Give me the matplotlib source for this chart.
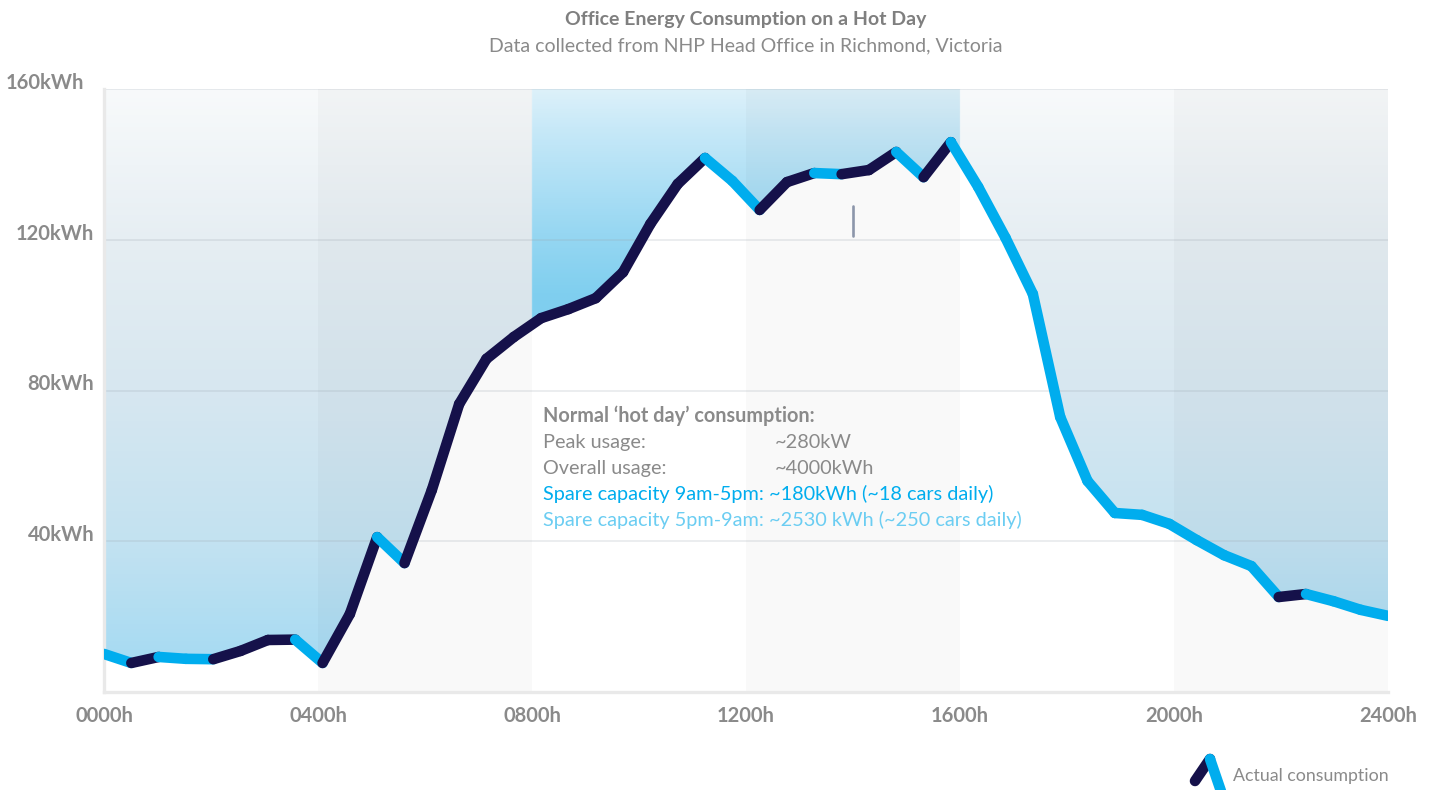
import numpy as np
import matplotlib
matplotlib.use('Agg')
import matplotlib.pyplot as plt
from matplotlib.patches import Polygon
from matplotlib.lines import Line2D
from matplotlib.colors import to_rgb
import matplotlib.transforms as mtransforms

# Energy readings through the day (kWh)
consumption = [10.1, 7.7, 9.3, 8.8, 8.7, 10.9, 13.8, 13.9, 7.7, 20.7,
               41.1, 34.2, 53.6, 76.4, 88.4, 94.2, 99.2, 101.6, 104.5, 111.4,
               124.2, 134.8, 141.7, 135.6, 127.9, 135.3, 137.7, 137.4, 138.5, 143.3,
               136.6, 145.9, 134.0, 120.5, 105.6, 73.0, 56.0, 47.5, 47.0, 44.6,
               40.3, 36.3, 33.4, 25.2, 26.0, 24.1, 21.8, 20.2]
hours = np.linspace(0, 24, len(consumption))

x_ticks = [0, 4, 8, 12, 16, 20, 24]
x_labels = ['0000h', '0400h', '0800h', '1200h', '1600h', '2000h', '2400h']
y_ticks = [40, 80, 120, 160]
y_labels = ['40kWh', '80kWh', '120kWh', '160kWh']

peak_hours = (8, 16)
grey_bands = [(4, 8), (12, 16), (20, 24)]
cursor_hour = 14
cursor_kwh = [121, 129]

note_title = 'Normal \u2018hot day\u2019 consumption:'
note_rows = [('Peak usage:', '~280kW'), ('Overall usage:', '~4000kWh')]
note_spare = ['Spare capacity 9am-5pm: ~180kWh (~18 cars daily)',
              'Spare capacity 5pm-9am: ~2530 kWh (~250 cars daily)']

# colours
dark = '#15114a'
blue = '#00adee'
light_blue = '#6bcdf2'
grey_text = '#8a8a8a'

W, H = 1434, 790
plt.rcParams['font.family'] = ['Lato', 'DejaVu Sans']
fig = plt.figure(figsize=(W / 100, H / 100), dpi=100)


def px(x, y):
    # pixel position (from top left) -> figure fraction
    return x / W, 1 - y / H


ax = fig.add_axes([104 / W, 1 - 692 / H, (1388 - 104) / W, (692 - 89) / H])
ax.set_xlim(0, 24)
ax.set_ylim(0, 160)

# gradient fill above the line
stops_normal = ([0, 40, 80, 120, 160], ['#9fd9f3', '#c3e2f1', '#d7e7f0', '#e6eef3', '#f8fafb'])
stops_peak = ([0, 106, 122, 150, 160], ['#6cc9ef', '#80cfef', '#97d7f2', '#c8e9f8', '#ddf1fa'])


def ramp(stops, vals):
    levels, cols = stops
    rgb = np.array([to_rgb(c) for c in cols])
    return np.stack([np.interp(vals, levels, rgb[:, k]) for k in range(3)], axis=-1)


ny, nx = 400, 960
vals = np.linspace(0, 160, ny)
xs = np.linspace(0, 24, nx)
img = np.zeros((ny, nx, 3))
normal = ramp(stops_normal, vals)
peak = ramp(stops_peak, vals)
for j, xv in enumerate(xs):
    img[:, j, :] = peak if peak_hours[0] <= xv < peak_hours[1] else normal

im = ax.imshow(img, origin='lower', extent=[0, 24, 0, 160], aspect='auto',
               interpolation='bilinear', zorder=1)
verts = list(zip(hours, consumption)) + [(24, 160), (0, 160)]
clip = Polygon(verts, closed=True, facecolor='none', edgecolor='none')
ax.add_patch(clip)
im.set_clip_path(clip)

for a, b in grey_bands:
    ax.axvspan(a, b, color='black', alpha=0.024, lw=0, zorder=1.5)

for v in y_ticks:
    ax.axhline(v, color='#9aa3ad', alpha=0.25, lw=1.1, zorder=2)

# line: rising parts dark, falling parts blue
for i in range(len(consumption) - 1):
    c = dark if consumption[i + 1] >= consumption[i] else blue
    ax.plot(hours[i:i + 2], consumption[i:i + 2], color=c, lw=7.6,
            solid_capstyle='round', zorder=3)

ax.plot([cursor_hour, cursor_hour], cursor_kwh, color='#8c96aa', lw=1.9,
        solid_capstyle='round', zorder=3)

for s in ['top', 'right']:
    ax.spines[s].set_visible(False)
for s in ['left', 'bottom']:
    ax.spines[s].set_color('#e9e9e9')
    ax.spines[s].set_linewidth(2.4)

ax.set_xticks(x_ticks)
ax.set_xticklabels(x_labels)
ax.set_yticks(y_ticks)
ax.set_yticklabels(y_labels)
ax.tick_params(length=0, colors=grey_text, labelsize=14.5)
ax.tick_params(axis='x', pad=10)
ax.tick_params(axis='y', pad=7)
for lab in ax.get_xticklabels() + ax.get_yticklabels():
    lab.set_fontweight('bold')
for lab in ax.get_yticklabels():
    lab.set_verticalalignment('baseline')
# the top label sits a little further left
top_lab = ax.get_yticklabels()[-1]
top_lab.set_transform(top_lab.get_transform() +
                      mtransforms.ScaledTranslation(-10 / 100, 0, fig.dpi_scale_trans))

# titles
fig.text(*px(746, 20), 'Office Energy Consumption on a Hot Day', ha='center', va='center',
         fontsize=14, fontweight='bold', color='#7f7f7f')
fig.text(*px(746, 46), 'Data collected from NHP Head Office in Richmond, Victoria',
         ha='center', va='center', fontsize=14, color='#8a8a8a')

# note block
fs = 14.3
fig.text(*px(543, 422), note_title, fontsize=fs, fontweight='bold', color=grey_text, va='baseline')
for k, (lbl, val) in enumerate(note_rows):
    y = 448 + 26 * k
    fig.text(*px(543, y), lbl, fontsize=fs, color=grey_text, va='baseline')
    fig.text(*px(775, y), val, fontsize=fs, color=grey_text, va='baseline')
for k, (line, c) in enumerate(zip(note_spare, [blue, light_blue])):
    fig.text(*px(543, 500 + 26 * k), line, fontsize=fs, color=c, va='baseline')

# legend
fig.add_artist(Line2D([px(1195, 781)[0], px(1210, 759)[0]], [px(1195, 781)[1], px(1210, 759)[1]],
                      transform=fig.transFigure, color=dark, lw=7.6, solid_capstyle='round'))
fig.add_artist(Line2D([px(1210, 759)[0], px(1224, 800)[0]], [px(1210, 759)[1], px(1224, 800)[1]],
                      transform=fig.transFigure, color=blue, lw=7.6, solid_capstyle='round'))
fig.text(*px(1233, 776), 'Actual consumption', fontsize=12.8, color=grey_text, va='center')

fig.savefig('out.png', dpi=100)
